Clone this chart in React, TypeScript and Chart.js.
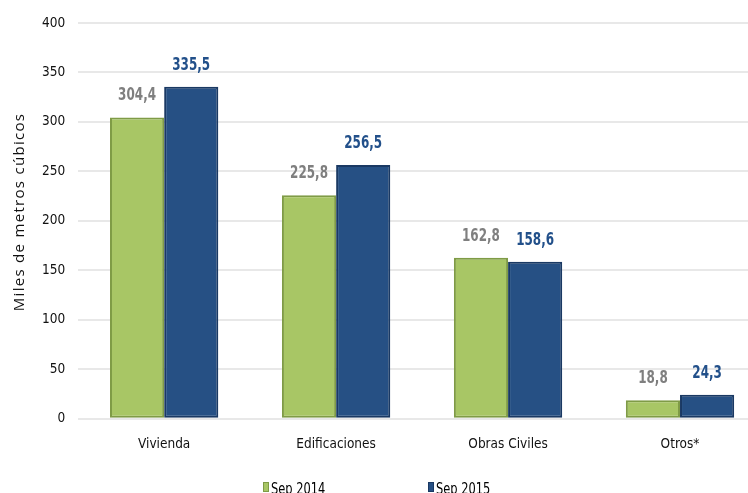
import React, { useEffect, useRef } from "react";
import { Chart, registerables } from "chart.js";

Chart.register(...registerables);

const categories = ["Vivienda", "Edificaciones", "Obras Civiles", "Otros*"];
const sep2014 = [304.4, 225.8, 162.8, 18.8];
const sep2015 = [335.5, 256.5, 158.6, 24.3];
const seriesLabels = ["Sep 2014", "Sep 2015"];
const yTitle = "Miles de metros cúbicos";

const FILL = ["#a8c665", "#265084"];
const EDGE = ["#7f9b46", "#1a3963"];
const LABEL_COLORS = ["#7f7f7f", "#22508a"];

const NARROW = "'DejaVu Sans Condensed', 'DejaVu Sans', sans-serif";

const valueLabels = {
  id: "valueLabels",
  afterDatasetsDraw(chart: any) {
    const ctx = chart.ctx;
    chart.data.datasets.forEach((ds: any, di: number) => {
      const meta = chart.getDatasetMeta(di);
      meta.data.forEach((bar: any, i: number) => {
        const v = ds.data[i];
        ctx.save();
        ctx.translate(bar.x, bar.y - 22);
        ctx.scale(0.72, 1);
        ctx.textAlign = "center";
        ctx.textBaseline = "middle";
        ctx.fillStyle = LABEL_COLORS[di];
        ctx.font = `bold 18.5px ${NARROW}`;
        ctx.fillText(v.toFixed(1).replace(".", ","), 0, 0);
        ctx.restore();
      });
    });
  },
};

const axisTitle = {
  id: "axisTitle",
  afterDraw(chart: any) {
    const ctx = chart.ctx;
    ctx.save();
    ctx.translate(20, 212);
    ctx.rotate(-Math.PI / 2);
    ctx.fillStyle = "#111";
    ctx.font = "15px 'Open Sans', 'DejaVu Sans', sans-serif";
    (ctx as any).letterSpacing = "1.3px";
    ctx.textAlign = "center";
    ctx.textBaseline = "middle";
    ctx.fillText(yTitle, 0, 0);
    ctx.restore();
  },
};

const bottomLegend = {
  id: "bottomLegend",
  afterDraw(chart: any) {
    const ctx = chart.ctx;
    const cx = chart.width / 2;
    const offsets = [-122, 43];
    const y = 490;
    chart.data.datasets.forEach((ds: any, di: number) => {
      const x = cx + offsets[di];
      ctx.save();
      ctx.fillStyle = FILL[di];
      ctx.fillRect(x, y - 8, 6, 10);
      ctx.strokeStyle = EDGE[di];
      ctx.lineWidth = 1;
      ctx.strokeRect(x + 0.5, y - 7.5, 5, 9);
      ctx.translate(x + 8, y);
      ctx.scale(0.82, 1);
      ctx.fillStyle = "#000";
      ctx.font = `15.5px ${NARROW}`;
      ctx.textAlign = "left";
      ctx.textBaseline = "alphabetic";
      ctx.fillText(ds.label, 0, 4);
      ctx.restore();
    });
  },
};

export default function App() {
  const ref = useRef<HTMLCanvasElement>(null);
  useEffect(() => {
    const chart = new Chart(ref.current!, {
      type: "bar",
      data: {
        labels: categories,
        datasets: [
          {
            label: seriesLabels[0],
            data: sep2014,
            backgroundColor: FILL[0],
            borderColor: EDGE[0],
            borderWidth: 2,
            borderSkipped: false,
            barPercentage: 1,
            categoryPercentage: 0.63,
          },
          {
            label: seriesLabels[1],
            data: sep2015,
            backgroundColor: FILL[1],
            borderColor: EDGE[1],
            borderWidth: 2,
            borderSkipped: false,
            barPercentage: 1,
            categoryPercentage: 0.63,
          },
        ],
      },
      options: {
        responsive: false,
        animation: false,
        layout: { padding: { top: 23, right: 4, left: 29, bottom: 30 } },
        plugins: {
          tooltip: { enabled: false },
          legend: { display: false },
        },
        scales: {
          x: {
            grid: { display: false },
            border: { display: false },
            ticks: { color: "#111", font: { family: NARROW, size: 13.5 }, padding: 10 },
          },
          y: {
            min: 0,
            max: 400,
            ticks: { stepSize: 50, color: "#111", font: { family: NARROW, size: 13.5 }, padding: 13 },
            grid: { color: "#e8e8e8", lineWidth: 2, drawTicks: false },
            border: { display: false },
          },
        },
      },
      plugins: [valueLabels, axisTitle, bottomLegend],
    });
    return () => chart.destroy();
  }, []);
  return (
    <div style={{ position: "fixed", left: 0, top: 0, width: 748, height: 493, overflow: "hidden", background: "#fff" }}>
      <canvas ref={ref} width={770} height={493} />
    </div>
  );
}
